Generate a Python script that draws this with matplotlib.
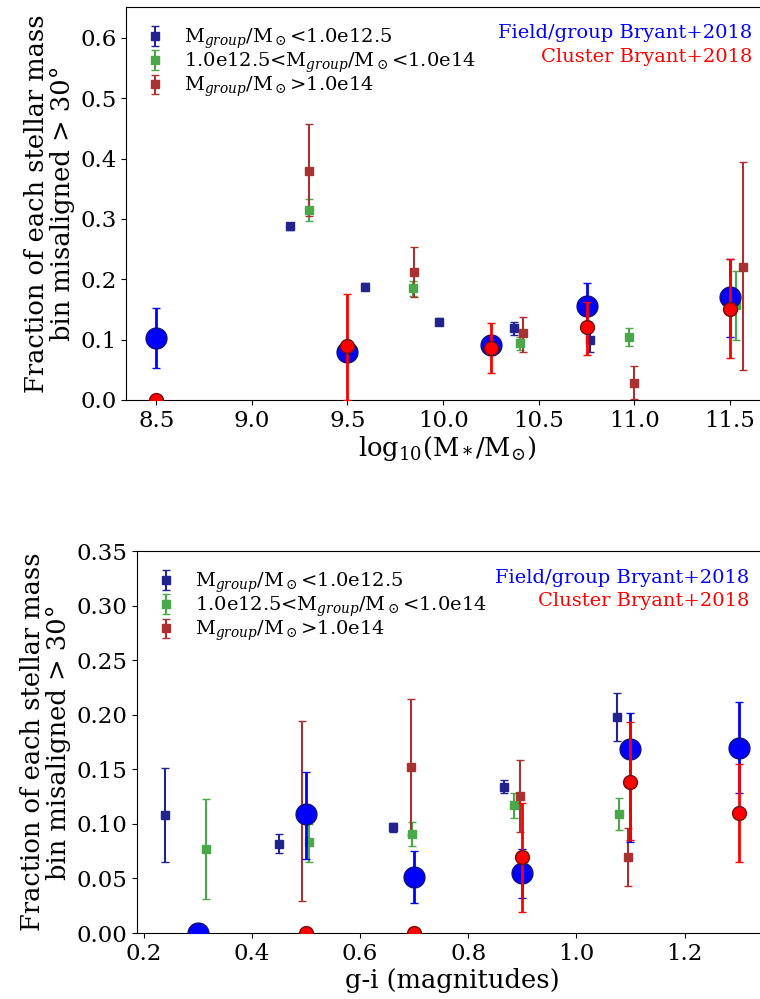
import numpy as np
import matplotlib
matplotlib.use('Agg')
import matplotlib.pyplot as plt

plt.rcParams['font.family'] = 'DejaVu Serif'
plt.rcParams['mathtext.fontset'] = 'dejavuserif'

# --- top panel: stellar mass ---
# M_group < 1e12.5
m_lo_x = [9.2, 9.59, 9.98, 10.37, 10.77]
m_lo_y = [0.288, 0.188, 0.130, 0.119, 0.099]
m_lo_err = [0.006, 0.006, 0.006, 0.011, 0.020]
# 1e12.5 < M_group < 1e14
m_mid_x = [9.30, 9.84, 10.40, 10.97, 11.53]
m_mid_y = [0.315, 0.185, 0.094, 0.105, 0.157]
m_mid_lo = [0.018, 0.012, 0.011, 0.016, 0.058]
m_mid_hi = [0.018, 0.012, 0.011, 0.014, 0.056]
# M_group > 1e14
m_hi_x = [9.30, 9.85, 10.42, 11.00, 11.57]
m_hi_y = [0.380, 0.212, 0.111, 0.028, 0.221]
m_hi_lo = [0.075, 0.041, 0.031, 0.026, 0.171]
m_hi_hi = [0.077, 0.042, 0.027, 0.028, 0.174]
# Bryant+2018 field/group
m_bf_x = [8.5, 9.5, 10.25, 10.75, 11.5]
m_bf_y = [0.103, 0.080, 0.091, 0.155, 0.171]
m_bf_lo = [0.050, 0.000, 0.000, 0.040, 0.066]
m_bf_hi = [0.050, 0.000, 0.000, 0.039, 0.062]
# Bryant+2018 cluster
m_bc_x = [8.5, 9.5, 10.25, 10.75, 11.5]
m_bc_y = [0.0, 0.090, 0.086, 0.121, 0.151]
m_bc_lo = [0.0, 0.090, 0.041, 0.046, 0.081]
m_bc_hi = [0.0, 0.085, 0.042, 0.042, 0.082]

# --- bottom panel: g-i colour ---
c_lo_x = [0.24, 0.45, 0.66, 0.867, 1.076]
c_lo_y = [0.108, 0.082, 0.097, 0.134, 0.198]
c_lo_err = [0.043, 0.009, 0.004, 0.006, 0.022]
c_mid_x = [0.315, 0.505, 0.696, 0.885, 1.078]
c_mid_y = [0.077, 0.083, 0.091, 0.117, 0.109]
c_mid_lo = [0.046, 0.018, 0.011, 0.012, 0.015]
c_mid_hi = [0.046, 0.017, 0.011, 0.011, 0.015]
c_hi_x = [0.492, 0.694, 0.896, 1.096]
c_hi_y = [0.110, 0.152, 0.126, 0.070]
c_hi_lo = [0.081, 0.062, 0.033, 0.027]
c_hi_hi = [0.084, 0.062, 0.033, 0.026]
c_bf_x = [0.3, 0.5, 0.7, 0.9, 1.1, 1.3]
c_bf_y = [0.0, 0.109, 0.051, 0.055, 0.169, 0.170]
c_bf_lo = [0.0, 0.041, 0.023, 0.023, 0.086, 0.042]
c_bf_hi = [0.0, 0.039, 0.024, 0.022, 0.033, 0.042]
c_bc_x = [0.5, 0.7, 0.9, 1.1, 1.3]
c_bc_y = [0.0, 0.0, 0.070, 0.138, 0.110]
c_bc_lo = [0.0, 0.0, 0.051, 0.053, 0.045]
c_bc_hi = [0.0, 0.0, 0.049, 0.055, 0.045]

labels = [r'M$_{group}$/M$_\odot$<1.0e12.5',
          r'1.0e12.5<M$_{group}$/M$_\odot$<1.0e14',
          r'M$_{group}$/M$_\odot$>1.0e14']
c_navy = '#23238e'
c_green = '#4aa84a'
c_brown = '#a83232'


def draw_panel(ax, lo, mid, hi, bf, bc):
    ax.errorbar(lo[0], lo[1], yerr=lo[2], fmt='s', color=c_navy, ms=6,
                capsize=3, elinewidth=1.5, label=labels[0], zorder=3)
    ax.errorbar(mid[0], mid[1], yerr=[mid[2], mid[3]], fmt='s', color=c_green, ms=6,
                capsize=3, elinewidth=1.5, label=labels[1], zorder=3)
    ax.errorbar(hi[0], hi[1], yerr=[hi[2], hi[3]], fmt='s', color=c_brown, ms=6,
                capsize=3, elinewidth=1.5, label=labels[2], zorder=3)
    ax.errorbar(bf[0], bf[1], yerr=[bf[2], bf[3]], fmt='o', color='blue', mec='#10107a',
                ms=15, capsize=3, elinewidth=2, zorder=4)
    ax.errorbar(bc[0], bc[1], yerr=[bc[2], bc[3]], fmt='o', color='red', mec='#701010',
                ms=10, capsize=3, elinewidth=2, zorder=5)
    ax.set_ylabel('Fraction of each stellar mass\nbin misaligned > 30°', fontsize=18.5,
                  linespacing=1.0)
    ax.tick_params(labelsize=16.5)
    ax.legend(loc='upper left', frameon=False, fontsize=14, handletextpad=1.0,
              labelspacing=0.0, borderaxespad=0.6, handlelength=1.0)


fig = plt.figure(figsize=(7.6, 9.99), dpi=100)

ax1 = fig.add_axes([0.166, 0.5996, 0.845, 0.3934])
draw_panel(ax1, (m_lo_x, m_lo_y, m_lo_err), (m_mid_x, m_mid_y, m_mid_lo, m_mid_hi),
           (m_hi_x, m_hi_y, m_hi_lo, m_hi_hi), (m_bf_x, m_bf_y, m_bf_lo, m_bf_hi),
           (m_bc_x, m_bc_y, m_bc_lo, m_bc_hi))
ax1.set_xlim(8.343, 11.70)
ax1.set_ylim(0, 0.651)
ax1.set_xlabel(r'log$_{10}$(M$_*$/M$_{\odot}$)', fontsize=18.5, labelpad=2)
ax1.text(0.975, 0.934, 'Field/group Bryant+2018', color='blue', fontsize=14,
         ha='right', va='center', transform=ax1.transAxes)
ax1.text(0.975, 0.873, 'Cluster Bryant+2018', color='red', fontsize=14,
         ha='right', va='center', transform=ax1.transAxes)

ax2 = fig.add_axes([0.180, 0.066, 0.831, 0.3824])
draw_panel(ax2, (c_lo_x, c_lo_y, c_lo_err), (c_mid_x, c_mid_y, c_mid_lo, c_mid_hi),
           (c_hi_x, c_hi_y, c_hi_lo, c_hi_hi), (c_bf_x, c_bf_y, c_bf_lo, c_bf_hi),
           (c_bc_x, c_bc_y, c_bc_lo, c_bc_hi))
ax2.set_xlim(0.187, 1.355)
ax2.set_ylim(0, 0.35)
ax2.set_xlabel('g-i (magnitudes)', fontsize=18.5, labelpad=2)
ax2.text(0.97, 0.929, 'Field/group Bryant+2018', color='blue', fontsize=14,
         ha='right', va='center', transform=ax2.transAxes)
ax2.text(0.97, 0.869, 'Cluster Bryant+2018', color='red', fontsize=14,
         ha='right', va='center', transform=ax2.transAxes)

fig.savefig('out.png', dpi=100)
